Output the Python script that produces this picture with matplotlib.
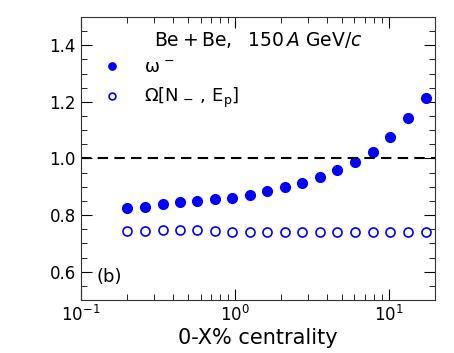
import numpy as np
import matplotlib
matplotlib.use("Agg")
import matplotlib.pyplot as plt
from matplotlib.ticker import MultipleLocator, LogLocator, NullFormatter

# centrality bins (0-X%)
centrality = [0.2, 0.26, 0.34, 0.44, 0.57, 0.74, 0.96, 1.25, 1.63, 2.12,
              2.75, 3.58, 4.65, 6.05, 7.86, 10.2, 13.3, 17.4]
# scaled variance omega^-
omega_minus = [0.824, 0.830, 0.839, 0.846, 0.851, 0.856, 0.862, 0.871, 0.884,
               0.898, 0.914, 0.934, 0.961, 0.987, 1.024, 1.076, 1.143, 1.212]
# strongly intensive Omega[N-, Ep]
omega_strong = [0.744, 0.745, 0.748, 0.748, 0.746, 0.745, 0.742, 0.741, 0.740,
                0.740, 0.739, 0.739, 0.740, 0.739, 0.739, 0.740, 0.741, 0.742]

fig = plt.figure(figsize=(4.54, 3.53), dpi=100)
ax = fig.add_axes([0.178, 0.150, 0.780, 0.802])

ax.plot(centrality, omega_minus, 'o', color='#0000ff', ms=7, label='ω$^{\\,-}$')
ax.plot(centrality, omega_strong, 'o', color='#0000ff', mfc='none', mew=1.2, ms=6.5,
        label=r'$\Omega[\mathrm{N}_{\,-}\,,\,\mathrm{E}_\mathrm{p}]$')
ax.axhline(1.0, color='black', ls='--', lw=1.5, dashes=(5, 3))

ax.set_xscale('log')
ax.set_xlim(0.1, 20)
ax.set_ylim(0.5, 1.5)
ax.xaxis.set_major_locator(LogLocator(base=10))
ax.xaxis.set_minor_locator(LogLocator(base=10, subs=np.arange(2, 10), numticks=20))
ax.xaxis.set_minor_formatter(NullFormatter())
ax.yaxis.set_minor_locator(MultipleLocator(0.05))
ax.set_yticks([0.6, 0.8, 1.0, 1.2, 1.4])
ax.tick_params(which='both', direction='in', top=True, right=True, labelsize=12)
ax.tick_params(which='major', length=8)
ax.tick_params(which='minor', length=4)
for s in ax.spines.values():
    s.set_color('#333333')

ax.set_xlabel('0-X% centrality', fontsize=15, labelpad=2)

ax.text(0.5, 0.919, r'$\mathrm{Be+Be,\ \ 150}\,A\ \mathrm{GeV}/c$', transform=ax.transAxes,
        ha='center', va='center', fontsize=13.5)
ax.text(0.045, 0.08, '(b)', transform=ax.transAxes, fontsize=13, va='center')

ax.legend(loc='upper left', bbox_to_anchor=(0.0, 0.897), frameon=False, fontsize=13,
          markerscale=0.75, handletextpad=0.8, labelspacing=0.5, borderaxespad=0.3)

fig.savefig('out.png', dpi=100)
